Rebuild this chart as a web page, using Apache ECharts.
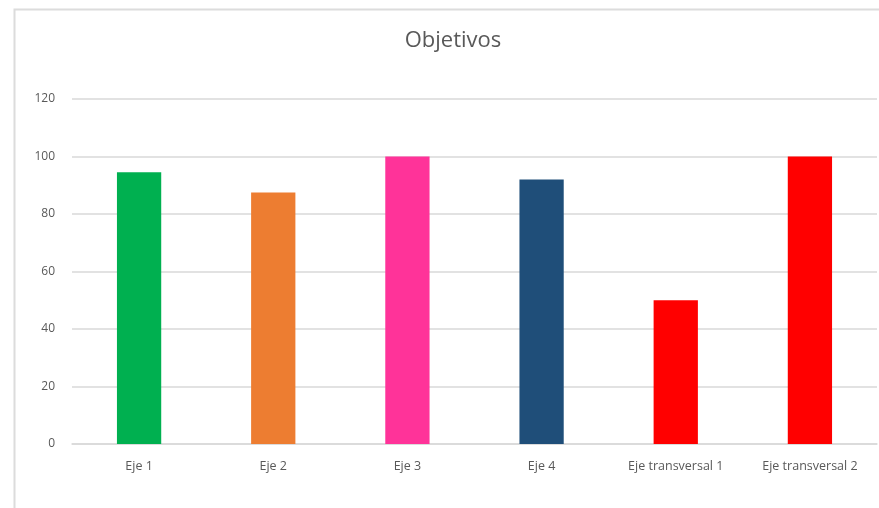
<!DOCTYPE html>
<html>
<head>
<meta charset="utf-8">
<script src="https://cdn.jsdelivr.net/npm/echarts@6/dist/echarts.min.js"></script>
<style>html,body{margin:0;padding:0;background:#fff}#c{width:879px;height:508px}</style>
</head>
<body>
<div id="c"></div>
<script>
const categories = ['Eje 1', 'Eje 2', 'Eje 3', 'Eje 4', 'Eje transversal 1', 'Eje transversal 2'];
const values = [94.5, 87.5, 100, 92, 50, 100];
const barColors = ['#00b050', '#ed7d31', '#ff3399', '#1f4e79', '#ff0000', '#ff0000'];
const yTicks = [0, 20, 40, 60, 80, 100, 120];

const chart = echarts.init(document.getElementById('c'), null, {renderer: 'canvas'});
chart.setOption({
  backgroundColor: '#fff',
  animation: false,
  graphic: [{
    type: 'rect', left: 12, top: 7,
    shape: {width: 1000, height: 700},
    style: {fill: 'none', stroke: '#dcdcdc', lineWidth: 2},
    silent: true, z: -10
  }],
  title: {
    text: 'Objetivos',
    left: 448, top: 25, textAlign: 'center',
    textStyle: {fontFamily: 'Open Sans', fontSize: 22, fontWeight: 'normal', color: '#595959'}
  },
  grid: {left: 72, right: 2, top: 99, bottom: 64, containLabel: false},
  xAxis: {
    type: 'category', data: categories,
    axisLine: {show: true, lineStyle: {color: '#d9d9d9', width: 1.5}},
    axisTick: {show: false},
    axisLabel: {margin: 16, fontFamily: 'Open Sans', fontSize: 12.5, color: '#595959', interval: 0}
  },
  yAxis: {
    type: 'value', min: 0, max: 120, interval: 20,
    axisLine: {show: false}, axisTick: {show: false},
    axisLabel: {margin: 17, fontFamily: 'Open Sans', fontSize: 12, color: '#595959',
      formatter: v => yTicks.includes(v) ? String(v) : ''},
    splitLine: {lineStyle: {color: '#d9d9d9', width: 1.5}}
  },
  series: [{
    type: 'bar',
    barWidth: '33%',
    data: values.map((v, i) => ({value: v, itemStyle: {color: barColors[i]}})),
  }]
});
</script>
</body>
</html>
